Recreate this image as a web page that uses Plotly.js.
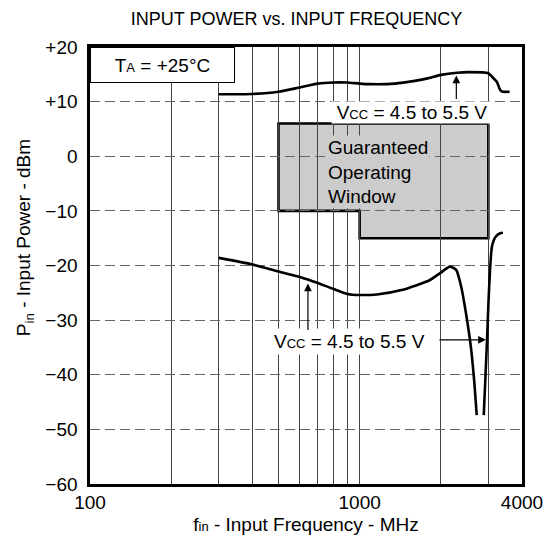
<!DOCTYPE html>
<html>
<head>
<meta charset="utf-8">
<script src="https://cdn.plot.ly/plotly-3.0.1.min.js"></script>
<style>
  html, body { margin: 0; padding: 0; background: #ffffff; }
  #chart { width: 544px; height: 539px; }
</style>
</head>
<body>
<div id="chart"></div>
<script>
// ---- data ----
// upper curve: maximum input power, VCC = 4.5 to 5.5 V (MHz, dBm)
var upperFreq  = [300, 400, 500, 600, 700, 800, 900, 1000, 1100, 1350, 1600, 1800, 2000, 2300, 2550, 3000, 3090, 3230, 3300, 3350, 3400, 3600];
var upperPower = [11.35, 11.4, 11.8, 12.6, 13.3, 13.5, 13.5, 13.3, 13.2, 13.3, 13.8, 14.3, 14.9, 15.3, 15.4, 15.2, 14.6, 13.6, 12.4, 11.95, 11.8, 11.8];

// lower curve: minimum input power (sensitivity), left branch down to the notch
var lowerFreqA  = [300, 400, 500, 600, 700, 800, 900, 1000, 1160, 1430, 1815, 2000, 2160, 2280, 2380, 2480, 2585, 2658, 2717];
var lowerPowerA = [-18.6, -19.8, -21.1, -22.1, -23.2, -24.3, -25.2, -25.4, -25.3, -24.5, -22.7, -21.3, -20.2, -20.8, -23.9, -28.8, -34.9, -41.0, -47.4];
// lower curve: right branch up from the notch
var lowerFreqB  = [2886, 2927, 2968, 3003, 3045, 3096, 3199, 3319, 3398];
var lowerPowerB = [-47.4, -40.4, -33.6, -26.9, -20.8, -16.5, -14.7, -14.1, -14.0];

// guaranteed operating window outline (MHz, dBm)
var windowFreq  = [500, 500, 1000, 1000, 3000, 3000];
var windowPower = [6, -10, -10, -15, -15, 6];

// axis ticks
var xTickVals  = [100, 1000, 4000];
var xTickText  = ['100', '1000', '4000'];
var xGridVals  = [200, 300, 400, 500, 600, 700, 800, 900, 2000, 3000];
var yTickVals  = [20, 10, 0, -10, -20, -30, -40, -50, -60];
var yTickText  = ['+20', '+10', '0', '\u221210', '\u221220', '\u221230', '\u221240', '\u221250', '\u221260'];

// ---- chart ----
var FONT = 'Liberation Sans, Arial, Helvetica, sans-serif';
var lineStyle = { color: '#000000', width: 2.6, shape: 'spline', smoothing: 0.6 };

var traces = [
  { x: upperFreq, y: upperPower, mode: 'lines', line: lineStyle, hoverinfo: 'skip', showlegend: false },
  { x: lowerFreqA, y: lowerPowerA, mode: 'lines', line: lineStyle, hoverinfo: 'skip', showlegend: false },
  { x: lowerFreqB, y: lowerPowerB, mode: 'lines', line: lineStyle, hoverinfo: 'skip', showlegend: false }
];

var pathStr = '';
for (var i = 0; i < windowFreq.length; i++) {
  pathStr += (i === 0 ? 'M' : 'L') + windowFreq[i] + ',' + windowPower[i] + ' ';
}
pathStr += 'Z';

var sub = function (t) { return '<span style="font-size:13px">' + t + '</span>'; };
var lg = Math.log10;

var layout = {
  width: 544,
  height: 539,
  margin: { l: 90, r: 22, t: 47, b: 55 },
  paper_bgcolor: '#ffffff',
  plot_bgcolor: '#ffffff',
  font: { family: FONT, size: 19, color: '#000000' },
  title: {
    text: 'INPUT POWER vs. INPUT FREQUENCY',
    font: { family: FONT, size: 18, color: '#000000' },
    x: 0.545, xref: 'container', xanchor: 'center',
    y: 0.966, yref: 'container', yanchor: 'middle'
  },
  xaxis: {
    type: 'log',
    range: [lg(100), lg(4000)],
    tickmode: 'array',
    tickvals: xTickVals,
    ticktext: xTickText,
    ticks: '',
    tickfont: { family: FONT, size: 19, color: '#000000' },
    showline: true, linecolor: '#000000', linewidth: 2.6, mirror: true,
    showgrid: true, gridcolor: '#444444', gridwidth: 1,
    minor: { tickmode: 'array', tickvals: xGridVals, showgrid: true, gridcolor: '#444444', gridwidth: 1, ticks: '' },
    zeroline: false,
    fixedrange: true,
    title: { text: 'f' + sub('in') + ' - Input Frequency - MHz', font: { family: FONT, size: 19 }, standoff: 6 }
  },
  yaxis: {
    range: [-60, 20],
    tickmode: 'array',
    tickvals: yTickVals,
    ticktext: yTickText,
    ticks: '',
    ticklabelstandoff: 6,
    tickfont: { family: FONT, size: 19, color: '#000000' },
    showline: true, linecolor: '#000000', linewidth: 2.6, mirror: true,
    showgrid: true, gridcolor: '#666666', gridwidth: 1, griddash: '10px,5px',
    zeroline: false,
    fixedrange: true
  },
  shapes: [
    { type: 'path', xref: 'x', yref: 'y', path: pathStr, layer: 'below',
      fillcolor: '#cccccc', line: { color: '#000000', width: 2.6 } }
  ],
  annotations: [
    // ambient temperature box
    { xref: 'paper', yref: 'paper', x: 0, y: 1, xanchor: 'left', yanchor: 'top',
      text: 'T' + sub('A') + ' = +25°C', showarrow: false,
      bgcolor: '#ffffff', bordercolor: '#000000', borderwidth: 1, borderpad: 0,
      width: 143, height: 34, font: { family: FONT, size: 19 } },
    // upper VCC label + arrow
    { xref: 'x', yref: 'y', x: lg(1569), y: 8.0, showarrow: false,
      text: 'V' + sub('CC') + ' = 4.5 to 5.5 V', bgcolor: '#ffffff', borderpad: 0,
      height: 21, width: 160, valign: 'bottom',
      font: { family: FONT, size: 19 } },
    { xref: 'x', yref: 'y', x: lg(2283), y: 14.8, text: '', showarrow: true,
      axref: 'pixel', ayref: 'pixel', ax: 0, ay: 25,
      arrowhead: 2, arrowsize: 1.3, arrowwidth: 1.2, arrowcolor: '#000000' },
    // lower VCC label + arrows
    { xref: 'x', yref: 'y', x: lg(919), y: -34.0, showarrow: false,
      text: 'V' + sub('CC') + ' = 4.5 to 5.5 V', bgcolor: '#ffffff', borderpad: 2,
      font: { family: FONT, size: 19 } },
    { xref: 'x', yref: 'y', x: lg(643), y: -23.3, text: '', showarrow: true,
      axref: 'pixel', ayref: 'pixel', ax: 0, ay: 48,
      arrowhead: 2, arrowsize: 1.3, arrowwidth: 1.2, arrowcolor: '#000000' },
    { xref: 'x', yref: 'y', x: lg(2940), y: -33.6, text: '', showarrow: true,
      axref: 'pixel', ayref: 'pixel', ax: -48, ay: 0,
      arrowhead: 2, arrowsize: 1.3, arrowwidth: 1.2, arrowcolor: '#000000' },
    // operating window label
    { xref: 'x', yref: 'y', x: lg(751), y: -2.9, xanchor: 'left', yanchor: 'middle',
      align: 'left', showarrow: false,
      text: 'Guaranteed<br>Operating<br>Window', bgcolor: '#cccccc', borderpad: 1,
      font: { family: FONT, size: 19 } },
    // y-axis title
    { xref: 'paper', yref: 'paper', x: -0.15, y: 0.563, xanchor: 'center', yanchor: 'middle',
      textangle: -90, showarrow: false,
      text: 'P<sub>in</sub> - Input Power - dBm', font: { family: FONT, size: 19 } }
  ]
};

Plotly.newPlot('chart', traces, layout, { displayModeBar: false, staticPlot: true });
</script>
</body>
</html>
